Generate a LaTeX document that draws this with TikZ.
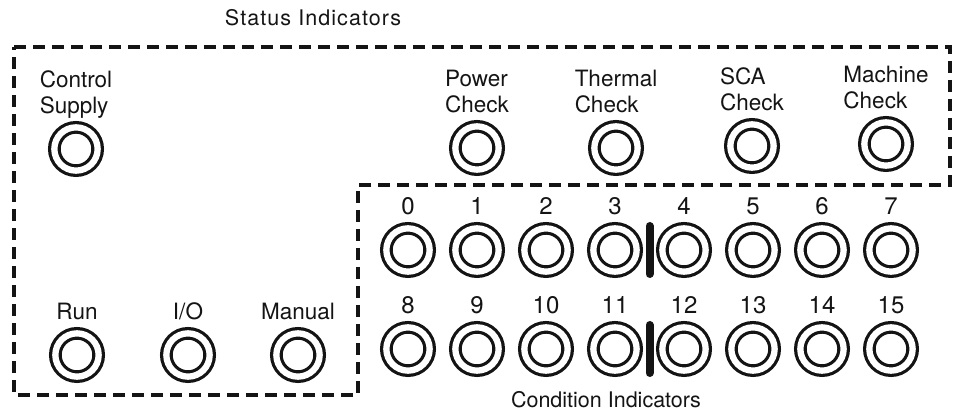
\documentclass[tikz,border=0pt]{standalone}
\usepackage{fontspec}
\setmainfont{TeX Gyre Heros}
\newfontfamily\spacedfont[LetterSpace=5]{TeX Gyre Heros}
\usepackage{tikz}
\usetikzlibrary{calc,positioning}
\usepackage{xcolor}
\definecolor{inkColor}{RGB}{20,20,20}
\newcommand{\diagfont}{\fontsize{22.5}{26}\selectfont}
\newcommand{\diagnumfont}{\fontsize{24}{26}\selectfont}
\newcommand{\diagtitlefont}{\fontsize{21.5}{24}\selectfont}

\begin{document}
\begin{tikzpicture}[x=1pt, y=1pt,
    led/.style={circle, draw=inkColor, double=white, double distance=6.3pt, line width=3.2pt, minimum size=43.3pt, inner sep=0pt},
    lbl/.style={align=left, font=\diagfont, inner sep=0pt, text depth=0pt, text=inkColor},
    num/.style={lbl, font=\diagnumfont},
    title/.style={font=\diagtitlefont, text=inkColor},
    panel/.style={draw=inkColor, line width=3.2pt, dash pattern=on 12pt off 7pt},
    divider/.style={draw=inkColor, line width=8pt, line cap=round},
    node distance=12pt
  ]
  \useasboundingbox (0,0) rectangle (954,411);

  \node[title, font=\diagtitlefont\spacedfont] (statusTitle) at (313,393) {Status Indicators};
  \node[title] (condTitle) at (606,11) {Condition Indicators};

  \node[led] (supply) at (76,262) {};
  \node[led] (power) at (477,263) {};
  \node[led] (thermal) at (616,263) {};
  \node[led] (sca) at (752,265) {};
  \node[led] (machine) at (886,267) {};
  \node[led] (run) at (77,56) {};
  \node[led] (io) at (188,56) {};
  \node[led] (manual) at (298,56) {};

  \node[lbl, above=of supply] (supplyLbl) {Control\\Supply};
  \node[lbl, above=of power] (powerLbl) {Power\\Check};
  \node[lbl, above=of thermal] (thermalLbl) {Thermal\\Check};
  \node[lbl, above=of sca] (scaLbl) {SCA\\Check};
  \node[lbl, above=of machine] (machineLbl) {Machine\\Check};
  \node[lbl, above=of run] (runLbl) {Run};
  \node[lbl, above=of io] (ioLbl) {I/O};
  \node[lbl, above=of manual] (manualLbl) {Manual};

  \foreach \i in {0,...,7} {
    \pgfmathtruncatemacro{\j}{\i+8}
    \node[led] (c\i) at (408+69*\i,161) {};
    \node[num, above=of c\i] (n\i) {\i};
    \node[led] (c\j) at (408+69*\i,62) {};
    \node[num, above=of c\j] (n\j) {\j};
  }

  \draw[divider] ($(c3)!.5!(c4)+(0,24)$) -- ($(c3)!.5!(c4)-(0,24)$);
  \draw[divider] ($(c11)!.5!(c12)+(0,24)$) -- ($(c11)!.5!(c12)-(0,24)$);

  \draw[panel] (14,364) -- (950,364) -- (950,226) -- (358,226) -- (358,16) -- (14,16) -- cycle;
\end{tikzpicture}
\end{document}
